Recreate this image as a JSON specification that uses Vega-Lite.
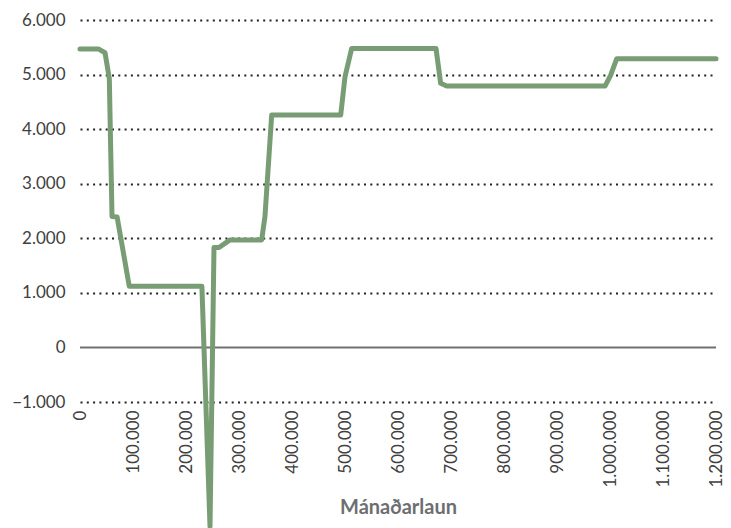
{
  "$schema": "https://vega.github.io/schema/vega-lite/v6.json",
  "width": 636,
  "height": 382,
  "autosize": {"type": "none"},
  "padding": {"left": 80, "top": 20, "right": 15, "bottom": 126},
  "background": "white",
  "config": {
    "view": {"stroke": null},
    "font": "Lato",
    "axis": {"labelFont": "Lato", "titleFont": "Lato"}
  },
  "datasets": {
    "series": [
      {"laun": 0, "val": 5470},
      {"laun": 34600, "val": 5470},
      {"laun": 47200, "val": 5400},
      {"laun": 55300, "val": 4930},
      {"laun": 60400, "val": 2400},
      {"laun": 70000, "val": 2390},
      {"laun": 93000, "val": 1120},
      {"laun": 230000, "val": 1120},
      {"laun": 245300, "val": -3280},
      {"laun": 252800, "val": 1830},
      {"laun": 262300, "val": 1830},
      {"laun": 283000, "val": 1970},
      {"laun": 342800, "val": 1970},
      {"laun": 349000, "val": 2400},
      {"laun": 361700, "val": 4260},
      {"laun": 491900, "val": 4260},
      {"laun": 500000, "val": 4960},
      {"laun": 512600, "val": 5480},
      {"laun": 671700, "val": 5480},
      {"laun": 680500, "val": 4840},
      {"laun": 691900, "val": 4790},
      {"laun": 990600, "val": 4790},
      {"laun": 1001300, "val": 4990},
      {"laun": 1012600, "val": 5290},
      {"laun": 1200000, "val": 5290}
    ],
    "zero": [{"y": 0}]
  },
  "layer": [
    {
      "data": {"name": "zero"},
      "mark": {"type": "rule", "color": "#707070", "strokeWidth": 2},
      "encoding": {"y": {"field": "y", "type": "quantitative"}}
    },
    {
      "data": {"name": "series"},
      "mark": {"type": "line", "color": "#789d74", "strokeWidth": 5, "strokeJoin": "round", "strokeCap": "round", "clip": false},
      "encoding": {
        "x": {
          "field": "laun",
          "type": "quantitative",
          "scale": {"domain": [0, 1200000], "nice": false, "zero": false},
          "axis": {
            "title": "Mánaðarlaun",
            "titleFontSize": 20,
            "titleFontWeight": "bold",
            "titleColor": "#6d6e71",
            "titlePadding": 10,
            "values": [0, 100000, 200000, 300000, 400000, 500000, 600000, 700000, 800000, 900000, 1000000, 1100000, 1200000],
            "labelExpr": "replace(format(datum.value, ','), /,/g, '.')",
            "labelAngle": -90,
            "labelFontSize": 17,
            "labelColor": "#404040",
            "labelPadding": 8,
            "labelOverlap": false,
            "labelFlush": false,
            "domain": false,
            "ticks": false,
            "grid": false
          }
        },
        "y": {
          "field": "val",
          "type": "quantitative",
          "scale": {"domain": [-1000, 6000], "nice": false, "zero": false},
          "axis": {
            "title": null,
            "values": [-1000, 1000, 2000, 3000, 4000, 5000, 6000, 0],
            "labelExpr": "replace(format(datum.value, ','), /,/g, '.')",
            "labelFontSize": 17,
            "labelColor": "#404040",
            "labelPadding": 15,
            "domain": false,
            "ticks": false,
            "grid": true,
            "gridColor": {"condition": {"test": "datum.value === 0", "value": "transparent"}, "value": "#222222"},
            "gridDash": [2, 4.3],
            "gridWidth": 2
          }
        }
      }
    }
  ]
}
